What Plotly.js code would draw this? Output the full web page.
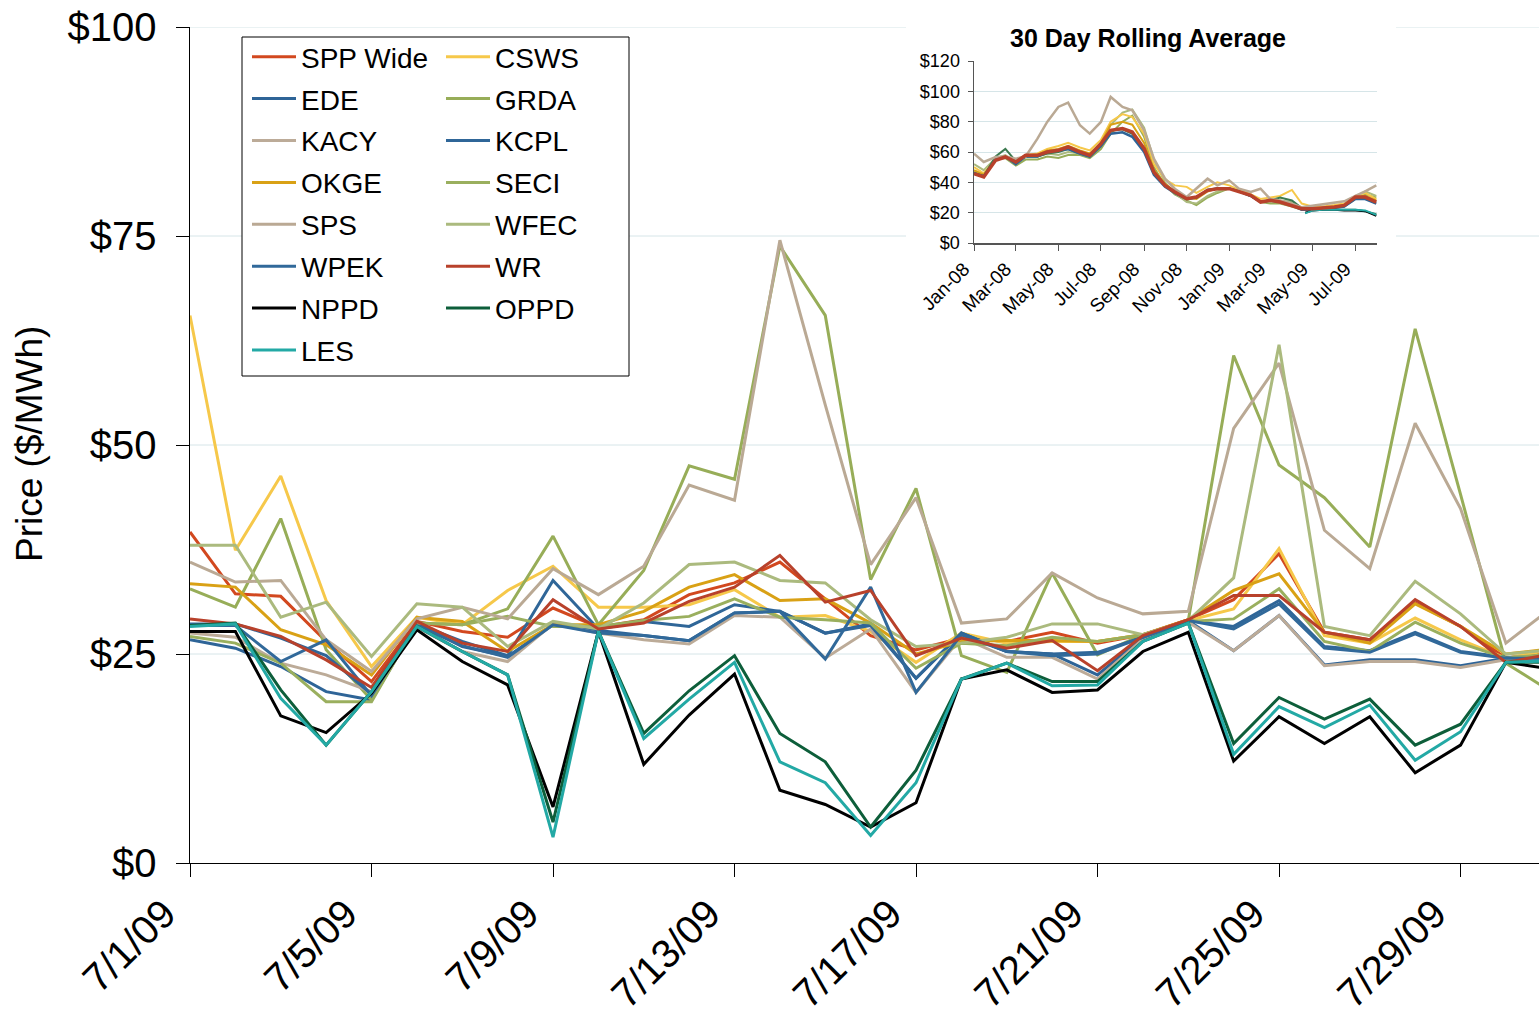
<!DOCTYPE html>
<html><head><meta charset="utf-8">
<script src="https://cdn.plot.ly/plotly-3.0.1.min.js"></script>
<style>html,body{margin:0;padding:0;background:#fff;} #chart{width:1539px;height:1021px;}</style>
</head><body><div id="chart"></div>
<script>
// ---------- main chart data (daily price, $/MWh) ----------
const days = ['2009-07-01','2009-07-02','2009-07-03','2009-07-04','2009-07-05','2009-07-06','2009-07-07','2009-07-08','2009-07-09','2009-07-10',
  '2009-07-11','2009-07-12','2009-07-13','2009-07-14','2009-07-15','2009-07-16','2009-07-17','2009-07-18','2009-07-19','2009-07-20',
  '2009-07-21','2009-07-22','2009-07-23','2009-07-24','2009-07-25','2009-07-26','2009-07-27','2009-07-28','2009-07-29','2009-07-30','2009-07-31'];

const sppWide = [39.6,32.2,31.9,26.5,21.7,28.9,27.7,27.0,30.5,28.2,29.1,32.1,33.5,36.0,31.6,27.2,25.5,26.9,26.5,27.6,26.3,27.3,29.1,31.5,37.0,27.6,26.7,31.1,28.3,24.5,25.3];
const csws    = [65.5,37.4,46.3,31.4,23.5,29.4,28.5,32.6,35.5,30.6,30.6,30.9,32.7,29.4,29.6,27.7,24.0,27.5,26.3,26.5,26.5,27.3,29.0,30.4,37.6,27.2,26.3,29.3,26.7,24.5,25.5];
const ede     = [26.7,25.7,23.5,20.5,19.5,28.6,25.9,24.7,28.5,27.8,27.2,26.6,29.9,30.1,27.5,28.6,22.1,27.5,25.3,25.0,22.5,27.0,29.0,25.4,29.6,23.7,24.3,24.3,23.6,24.5,24.3];
const grda    = [32.8,30.6,41.2,25.5,19.5,28.7,28.5,30.4,39.1,28.5,35.0,47.5,45.9,73.8,65.5,33.9,44.8,24.8,22.8,34.7,24.9,27.3,29.0,60.7,47.6,43.7,37.8,63.9,44.1,23.9,20.5];
const kacy    = [27.5,27.0,23.9,22.5,20.5,28.2,25.3,24.1,28.6,27.5,26.7,26.2,29.6,29.4,24.5,28.0,20.4,27.0,24.6,24.6,22.0,26.8,28.8,25.4,29.6,23.6,24.1,24.1,23.4,24.3,24.5];
const kcpl    = [28.6,28.6,26.9,24.8,20.2,28.6,26.5,24.8,33.8,28.0,28.9,28.3,30.9,30.1,27.5,28.4,22.1,27.5,25.3,25.0,25.2,27.0,29.0,28.3,31.4,25.9,25.4,27.6,25.3,24.6,24.6];
const okge    = [33.4,33.0,27.9,26.1,22.5,29.4,28.9,25.3,28.5,28.5,30.1,33.0,34.5,31.4,31.6,28.7,25.0,26.5,26.6,26.6,26.5,27.3,29.1,32.6,34.6,27.6,26.3,31.0,28.3,25.0,25.6];
const seci    = [27.1,26.3,23.9,19.3,19.3,28.7,28.5,29.5,28.3,28.3,29.0,29.5,31.6,29.4,29.1,28.7,23.3,26.3,26.0,27.0,26.5,27.3,28.9,29.2,32.8,26.5,25.3,28.8,26.3,24.5,25.0];
const sps     = [36.0,33.6,33.8,26.7,22.9,29.2,30.6,29.2,35.2,32.1,35.5,45.2,43.4,74.5,54.8,35.7,43.7,28.7,29.2,34.7,31.7,29.8,30.1,52.0,59.8,39.8,35.2,52.6,42.4,26.3,30.5];
const wfec    = [38.0,38.0,29.4,31.2,24.7,31.0,30.6,25.9,28.9,28.0,31.1,35.7,36.0,33.8,33.5,29.1,25.9,26.3,27.0,28.6,28.6,27.3,29.0,34.1,62.0,28.3,27.2,33.7,29.8,25.0,25.5];
const wpek    = [28.4,28.4,24.1,26.7,20.0,28.4,26.0,24.6,28.5,27.5,27.2,26.6,29.9,30.1,24.4,33.0,20.4,27.3,25.3,24.8,25.0,27.0,29.0,28.0,31.0,25.7,25.2,27.4,25.2,24.5,24.5];
const wr      = [29.2,28.6,27.1,24.3,21.0,28.9,26.3,25.3,31.5,28.0,28.7,31.3,33.0,36.8,31.2,32.6,24.8,26.9,25.7,26.6,23.0,27.2,29.1,32.0,32.0,27.6,26.7,31.5,28.3,24.0,25.0];
const nppd    = [27.7,27.7,17.6,15.6,20.3,27.9,24.1,21.3,6.7,27.7,11.8,17.7,22.6,8.7,7.0,4.3,7.2,22.0,23.1,20.4,20.7,25.3,27.6,12.2,17.5,14.3,17.5,10.8,14.1,24.0,23.2];
const oppd    = [28.4,28.7,20.7,14.1,20.5,28.3,25.3,22.5,4.9,27.7,15.5,20.6,24.8,15.5,12.1,4.3,11.1,22.0,23.9,21.7,21.7,26.5,28.7,14.3,19.8,17.2,19.6,14.1,16.6,24.0,24.0];
const les     = [28.3,28.6,19.7,14.1,20.5,28.3,25.3,22.5,3.1,27.7,14.9,19.6,24.0,12.1,9.6,3.3,9.6,22.0,23.9,21.2,21.3,26.5,28.7,13.0,18.7,16.2,18.9,12.3,15.7,24.0,24.2];

const seriesNames = ['SPP Wide','CSWS','EDE','GRDA','KACY','KCPL','OKGE','SECI','SPS','WFEC','WPEK','WR','NPPD','OPPD','LES'];
const seriesValues = [sppWide,csws,ede,grda,kacy,kcpl,okge,seci,sps,wfec,wpek,wr,nppd,oppd,les];
const seriesColors = ['#D2481F','#F6C84A','#2E6497','#97AD58','#BCAB98','#2F6698','#D9A115','#9AAF5E','#BAA994','#ABBA7E','#31699A','#B8412B','#000000','#0D5E3A','#23A9A5'];
const leftColumn = ['SPP Wide','EDE','KACY','OKGE','SPS','WPEK','NPPD','LES'];

const xTickDates = ['2009-07-01','2009-07-05','2009-07-09','2009-07-13','2009-07-17','2009-07-21','2009-07-25','2009-07-29'];
const xTickLabels = ['7/1/09','7/5/09','7/9/09','7/13/09','7/17/09','7/21/09','7/25/09','7/29/09'];
const yTickValues = [0,25,50,75,100];
const yTickLabels = ['$0','$25','$50','$75','$100'];
const yTitle = 'Price ($/MWh)';

// ---------- inset: 30 day rolling average ----------
const insetDates = ['2008-01-01','2008-01-15','2008-02-01','2008-02-15','2008-03-01','2008-03-15','2008-04-01','2008-04-15','2008-05-01','2008-05-15',
  '2008-06-01','2008-06-15','2008-07-01','2008-07-15','2008-08-01','2008-08-15','2008-09-01','2008-09-15','2008-10-01','2008-10-15',
  '2008-11-01','2008-11-15','2008-12-01','2008-12-15','2009-01-01','2009-01-15','2009-02-01','2009-02-15','2009-03-01','2009-03-15',
  '2009-04-01','2009-04-15','2009-05-01','2009-05-15','2009-06-01','2009-06-15','2009-07-01','2009-07-15','2009-07-31'];
const insetSps  = [58.9,53.4,56.7,57.0,55.6,57.0,68.8,79.8,89.7,92.5,77.6,72.1,79.8,96.3,89.7,87.5,74.3,55.6,42.4,35.8,30.3,35.8,42.4,38.0,41.3,35.8,33.6,35.8,29.0,28.0,26.0,23.5,24.5,25.5,26.5,27.5,31.0,34.0,38.0];
const insetCsws = [50,46,55,57,54,58,59,62,64,66,63,61,68,80,85,83,72,52,42,38,37,33,37,40,38,35,32,29,30,31,35,26,24,24,25,26,31,33,29];
const insetGrda = [47,44,55,56,51,55,55,57,56,58,58,56,62,72,80,84,70,50,38,32,28,25,30,33,36,34,31,27,26,26,24,22,22,23,23,24,29,32,30];
const insetWfec = [52,48,56,58,53,57,57,59,58,60,59,57,64,78,86,88,76,55,40,33,27,26,31,34,36,35,32,28,27,28,27,23,22,23,24,25,30,34,31];
const insetOkge = [48,45,56,57,53,57,58,61,62,64,61,59,66,78,80,78,66,48,39,34,30,29,34,36,36,34,31,27,28,27,25,23,23,23,24,25,30,31,28];
const insetOppd = [46,44,57,62,54,57,57,59,60,62,59,57,64,74,75,72,61,46,38,33,29,30,35,36,36,34,31,27,28,30,28,23,22,22,22,22,22,21,19];
const insetEde  = [46,44,55,57,52,57,57,60,61,62,59,57,64,72,73,70,60,45,37,33,29,30,35,36,36,34,31,27,28,27,25,22,22,23,23,24,29,29,26];
const insetSpp  = [45.7,43.5,54.5,56.7,53.4,57.8,57.8,60.0,61.1,63.3,60.0,57.8,65.5,74.3,75.4,73.2,62.2,46.8,38.0,33.6,29.2,30.3,34.7,35.8,35.8,33.6,31.4,27.0,28.1,27.0,24.8,22.6,22.6,23.1,23.7,24.8,30.3,30.3,27.0];
const insetLateDates = ['2009-04-20','2009-05-01','2009-05-15','2009-06-01','2009-06-15','2009-07-01','2009-07-15','2009-07-31'];
const insetNppd = [20.0,21.5,22.0,22.0,21.5,21.5,21.0,18.0];
const insetLes  = [19.5,21.5,22.0,22.0,22.0,22.0,21.5,18.5];
const insetTickDates = ['2008-01-01','2008-03-01','2008-05-01','2008-07-01','2008-09-01','2008-11-01','2009-01-01','2009-03-01','2009-05-01','2009-07-01'];
const insetTickLabels = ['Jan-08','Mar-08','May-08','Jul-08','Sep-08','Nov-08','Jan-09','Mar-09','May-09','Jul-09'];
const insetYTicks = [0,20,40,60,80,100,120];
const insetYLabels = ['$0','$20','$40','$60','$80','$100','$120'];
const insetTitle = '30 Day Rolling Average';

const FONT = 'Liberation Sans, Arial, sans-serif';
const GRID = '#D6E5E8';
const traces = [];
seriesNames.forEach((n,i)=>{
  traces.push({
    type:'scatter', mode:'lines', name:n, x:days, y:seriesValues[i],
    line:{color:seriesColors[i], width:3},
    legend: leftColumn.includes(n) ? 'legend' : 'legend2',
    legendgroup:n, hoverinfo:'skip'
  });
});
const insetSeries = [
  [insetDates, insetGrda, '#97AD58', 2],
  [insetDates, insetWfec, '#ABBA7E', 2],
  [insetDates, insetCsws, '#F6C84A', 2],
  [insetDates, insetOkge, '#D9A115', 2],
  [insetDates, insetOppd, '#3C7A50', 2],
  [insetDates, insetEde, '#2E6497', 2.5],
  [insetDates, insetSps, '#BAA994', 2.5],
  [insetLateDates, insetNppd, '#000000', 2],
  [insetLateDates, insetLes, '#23A9A5', 2],
  [insetDates, insetSpp, '#B8412B', 3.5]
];
insetSeries.forEach(s=>{
  traces.push({type:'scatter', mode:'lines', x:s[0], y:s[1], xaxis:'x2', yaxis:'y2',
    line:{color:s[2], width:s[3]}, showlegend:false, hoverinfo:'skip'});
});

const plotW = 1539-190, plotH = 863-27;
const px = v => (v-190)/plotW;
const py = v => (863-v)/plotH;

// main horizontal gridlines, interrupted behind the inset box
const shapes = [];
yTickValues.filter(v=>v>0).forEach(v=>{
  const segs = v >= 75 ? [[0, px(906)], [px(1396), 1]] : [[0, 1]];
  segs.forEach(s=>shapes.push({type:'line', xref:'paper', yref:'y', x0:s[0], x1:s[1], y0:v, y1:v,
    line:{color:GRID, width:1}, layer:'below'}));
});
shapes.push({type:'rect', xref:'paper', yref:'paper', x0:px(242), x1:px(629), y0:py(376), y1:py(37),
  fillcolor:'#ffffff', line:{color:'#000', width:1}, layer:'above'});

const layout = {
  width:1539, height:1021,
  margin:{l:190, r:0, t:27, b:158},
  paper_bgcolor:'#ffffff', plot_bgcolor:'rgba(0,0,0,0)',
  font:{family:FONT, color:'#000'},
  showlegend:true,
  xaxis:{
    type:'date', range:['2009-07-01','2009-07-30 17:30'],
    tickmode:'array', tickvals:xTickDates, ticktext:xTickLabels,
    tickangle:-45, tickfont:{size:40, family:FONT, color:'#000'}, ticklabelshift:-26, ticklabelstandoff:-3,
    ticks:'outside', ticklen:13, tickcolor:'#000', tickwidth:1,
    showline:true, linecolor:'#000', linewidth:1,
    showgrid:false, zeroline:false, fixedrange:true
  },
  yaxis:{
    range:[0,100], tickmode:'array', tickvals:yTickValues, ticktext:yTickLabels,
    tickfont:{size:40, family:FONT, color:'#000'},
    ticks:'outside', ticklen:13, tickcolor:'#000', tickwidth:1, ticklabelstandoff:11,
    showline:true, linecolor:'#000', linewidth:1.5,
    showgrid:false, zeroline:false, fixedrange:true
  },
  xaxis2:{
    type:'date', anchor:'y2', domain:[px(974), px(1377)],
    range:['2008-01-01','2009-08-01'],
    tickmode:'array', tickvals:insetTickDates, ticktext:insetTickLabels,
    tickangle:-45, tickfont:{size:19, family:FONT, color:'#000'}, ticklabelshift:-10,
    ticks:'outside', ticklen:6, tickcolor:'#555', showline:true, linecolor:'#555', linewidth:1.5,
    showgrid:false, zeroline:false
  },
  yaxis2:{
    anchor:'x2', domain:[py(243), py(61)], range:[0,120],
    tickmode:'array', tickvals:insetYTicks, ticktext:insetYLabels,
    tickfont:{size:18, family:FONT, color:'#000'},
    ticks:'outside', ticklen:5, tickcolor:'#555', showline:true, linecolor:'#555', linewidth:1.5,
    showgrid:true, gridcolor:GRID, zeroline:false, ticklabelstandoff:4
  },
  legend:{
    x:px(247), y:py(32), xanchor:'left', yanchor:'top',
    bgcolor:'rgba(0,0,0,0)', borderwidth:0, itemwidth:44,
    font:{size:28, family:FONT, color:'#000'}, tracegroupgap:2.5, traceorder:'grouped'
  },
  legend2:{
    x:px(441), y:py(32), xanchor:'left', yanchor:'top',
    bgcolor:'rgba(0,0,0,0)', borderwidth:0, itemwidth:44,
    font:{size:28, family:FONT, color:'#000'}, tracegroupgap:2.5, traceorder:'grouped'
  },
  shapes: shapes,
  annotations:[
    {xref:'paper', yref:'paper', x:px(1148), y:py(38), xanchor:'center', yanchor:'middle',
     text:'<b>'+insetTitle+'</b>', showarrow:false, font:{size:25, family:FONT, color:'#000'}},
    {xref:'paper', yref:'paper', x:px(29), y:py(444), xanchor:'center', yanchor:'middle',
     text:yTitle, textangle:-90, showarrow:false, font:{size:37, family:FONT, color:'#000'}}
  ]
};

Plotly.newPlot('chart', traces, layout, {staticPlot:true, displayModeBar:false});
</script>
</body></html>
